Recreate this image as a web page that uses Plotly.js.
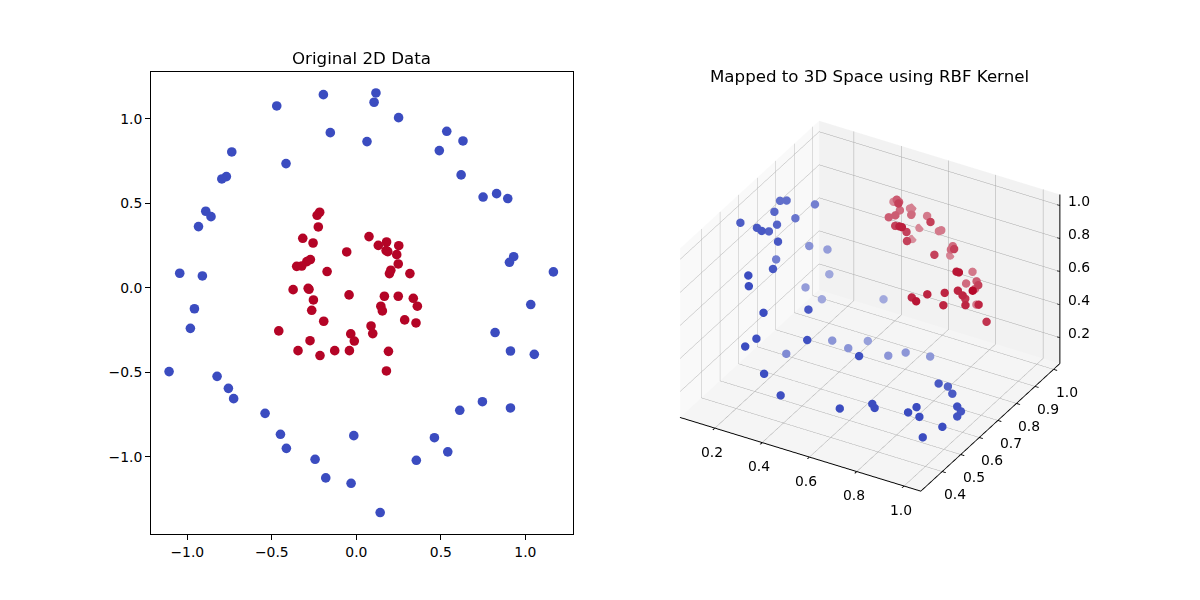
<!DOCTYPE html>
<html><head><meta charset="utf-8"><script src="https://cdn.plot.ly/plotly-3.0.1.min.js"></script>
<style>html,body{margin:0;padding:0;background:#fff}#c{width:1200px;height:600px}</style></head>
<body><div id="c"></div><script>
const outerX=[-0.471,-0.195,0.116,0.105,0.250,-0.154,0.063,0.535,0.631,0.491,0.620,0.750,0.830,0.896,-0.737,-0.416,-0.769,-0.796,-0.891,-0.860,-0.934,0.931,0.906,-1.045,-0.911,1.166,-0.958,1.032,-0.982,0.821,0.912,1.053,-1.108,-0.824,-0.757,-0.726,-0.540,-0.449,-0.414,-0.244,-0.181,-0.031,0.141,-0.015,0.355,0.462,0.541,0.612,0.746,0.912];
const outerY=[1.077,1.144,1.154,1.099,1.008,0.919,0.866,0.927,0.870,0.813,0.669,0.538,0.558,0.529,0.805,0.736,0.659,0.645,0.454,0.422,0.363,0.185,0.152,0.087,0.071,0.095,-0.123,-0.098,-0.239,-0.264,-0.373,-0.393,-0.495,-0.523,-0.594,-0.655,-0.742,-0.866,-0.949,-1.014,-1.124,-1.156,-1.329,-0.874,-1.020,-0.886,-0.970,-0.724,-0.673,-0.710];
const innerX=[-0.217,-0.232,-0.225,-0.317,-0.256,0.075,0.130,0.179,0.251,-0.057,0.176,0.186,0.239,0.248,0.204,0.196,0.317,-0.272,-0.293,-0.323,-0.353,-0.173,-0.374,-0.285,-0.280,-0.043,-0.254,0.166,0.248,0.337,0.361,0.145,0.154,-0.264,-0.193,0.286,0.353,-0.459,0.087,0.097,-0.033,-0.012,-0.274,-0.345,-0.215,-0.128,-0.041,0.190,0.178];
const innerY=[0.448,0.430,0.361,0.294,0.266,0.304,0.252,0.272,0.250,0.213,0.221,0.215,0.197,0.142,0.105,0.085,0.085,0.168,0.156,0.130,0.128,0.097,-0.010,-0.002,-0.008,-0.041,-0.071,-0.049,-0.049,-0.061,-0.108,-0.108,-0.136,-0.132,-0.197,-0.189,-0.207,-0.254,-0.225,-0.270,-0.272,-0.314,-0.312,-0.371,-0.400,-0.371,-0.371,-0.375,-0.491];

const blueX=[.134,.204,.224,.22,.204,.184,.204,.234,.23,.25,.29,.18,.30,.29,.30,.21,.24,.24,.21,.24,.45,.37,.34,.32,.50,.37,.27,.43,.68,.45,.43,.56,.61,.69,.40,.47,.72,.83,.84,.95,.97,.99,1.02,1.04,.93,.93,.98,1.04,1.04,1.04];
const blueY=[.506,.506,.506,.55,.60,.656,.666,.576,.68,.76,.51,.64,.47,.35,.34,.78,.84,.85,.76,.81,.47,.33,.33,.295,.40,.70,.58,.71,.45,.79,.90,.76,.79,.82,.295,.295,.295,.33,.33,.37,.39,.38,.36,.44,.56,.61,.57,.52,.54,.52];
const blueZ=[1.03,1.03,1.02,.97,1.03,1.03,1.03,.99,.92,.93,.98,.69,.86,.94,.89,.64,.57,.41,.41,.30,.68,.77,.60,.58,.59,.22,.22,.19,.52,.16,.29,.15,.16,.14,.45,.35,.38,.42,.40,.38,.40,.36,.27,.26,.35,.28,.30,.30,.25,.24];
const redX=[.47,.48,.37,.46,.48,.46,.44,.45,.50,.47,.55,.634,.644,.59,.48,.52,.66,.57,.58,.45,.60,.66,.66,.76,.61,.70,.88,.89,.72,.74,.80,.87,.98,.77,.87,.89,.87,.91,.76,.95,.83,.78,.73,.78,.84,.96,.98,.54];
const redY=[.92,.92,1.03,.95,.90,.89,1.03,1.03,.96,1.00,.81,.726,.726,.82,1.03,1.02,.86,1.02,1.02,1.03,.81,.97,.98,.86,1.03,.83,.72,.72,1.01,.95,.93,.85,.68,.96,.74,.74,.78,.73,.98,.75,.72,.69,.67,.63,.70,.78,.68,.84];
const redZ=[.89,.88,.72,.79,.82,.81,.71,.72,.77,.72,.88,1.00,1.00,.85,.61,.71,.90,.64,.65,.53,.81,.62,.63,.78,.50,.75,.84,.84,.47,.47,.53,.62,.81,.44,.70,.68,.61,.64,.32,.64,.69,.69,.67,.71,.64,.51,.81,.98];

const xTicks3=[.2,.4,.6,.8,1], yTicks3=[.4,.5,.6,.7,.8,.9,1], zTicks3=[.2,.4,.6,.8,1];
const xr=[.053,1.071], yr=[.285,1.034], zr=[.043,1.066];
const BLUE=[59,76,192], RED=[180,4,38], PANE=[244,244,244];
const view={eyeScale:1.587,dir:[.424,-.734,.53],zAspect:.717};

function nearness(x,y,z){return view.dir[0]*(x-xr[0])/(xr[1]-xr[0])+view.dir[1]*(y-yr[0])/(yr[1]-yr[0])+view.dir[2]*view.zAspect*(z-zr[0])/(zr[1]-zr[0]);}
const allN=blueX.map((v,i)=>nearness(v,blueY[i],blueZ[i])).concat(redX.map((v,i)=>nearness(v,redY[i],redZ[i])));
const nMin=Math.min(...allN), nMax=Math.max(...allN);
const shade=(rgb,n)=>{const k=Math.min(1,.42+.68*(n-nMin)/(nMax-nMin));
 return `rgb(${rgb.map((c,i)=>Math.round(c*k+PANE[i]*(1-k))).join(',')})`;};

const font={family:'"DejaVu Sans",sans-serif',size:13.9,color:'#000'};
const fmt=v=>v.toFixed(1);
const t3=(axis,vals)=>vals.map(v=>{
  if(axis==='x')return{x:v,y:yr[0],z:zr[0],text:fmt(v),xshift:-3,yshift:-24};
  if(axis==='y')return{x:xr[1],y:v,z:zr[0],text:fmt(v),xshift:13,yshift:-23};
  return{x:xr[1],y:yr[1],z:v,text:fmt(v),xshift:19,yshift:5};
});
const sceneAnn=[...t3('x',xTicks3),...t3('y',yTicks3),...t3('z',zTicks3)].map(a=>({...a,showarrow:false,font,xanchor:'center',yanchor:'middle'}));

const zx=[xr[1],xr[1],null],zy=[yr[1],yr[1],null],zz=[zr[0],zr[1],null];
zTicks3.forEach(v=>{zx.push(xr[1]-.012,xr[1]+.012,null);zy.push(yr[1],yr[1],null);zz.push(v,v,null);});

const data=[
 {type:'scatter',mode:'markers',x:outerX,y:outerY,marker:{size:9.6,color:'#3b4cc0',line:{width:0}},hoverinfo:'skip'},
 {type:'scatter',mode:'markers',x:innerX,y:innerY,marker:{size:9.6,color:'#b40426',line:{width:0}},hoverinfo:'skip'},
 {type:'scatter3d',mode:'lines',x:zx,y:zy,z:zz,line:{color:'#000',width:2},hoverinfo:'skip',scene:'scene'},
 {type:'scatter3d',mode:'markers',x:blueX,y:blueY,z:blueZ,marker:{size:4.9,line:{width:0},color:blueX.map((v,i)=>shade(BLUE,nearness(v,blueY[i],blueZ[i])))},hoverinfo:'skip',scene:'scene'},
 {type:'scatter3d',mode:'markers',x:redX,y:redY,z:redZ,marker:{size:4.9,line:{width:0},color:redX.map((v,i)=>shade(RED,nearness(v,redY[i],redZ[i])))},hoverinfo:'skip',scene:'scene'}
];
const ax3=(range,tickvals,bg,line)=>({range,tickmode:'array',tickvals,showticklabels:false,title:{text:''},showgrid:true,gridcolor:'#a8a8a8',gridwidth:1,zeroline:false,showspikes:false,showbackground:true,backgroundcolor:bg,showline:line,linecolor:'#000',linewidth:2,ticks:line?'outside':'',ticklen:4,tickcolor:'#000',tickwidth:2});
const layout={width:1200,height:600,margin:{l:0,r:0,t:0,b:0},showlegend:false,paper_bgcolor:'#fff',plot_bgcolor:'#fff',font,
 xaxis:{domain:[151/1200,573/1200],range:[-1.215,1.282],tickmode:'array',tickvals:[-1,-.5,0,.5,1],ticktext:['−1.0','−0.5','0.0','0.5','1.0'],ticks:'outside',ticklen:4.9,tickwidth:1.1,tickcolor:'#000',showline:true,linecolor:'#000',linewidth:1.1,mirror:true,showgrid:false,zeroline:false,tickfont:font,automargin:false},
 yaxis:{domain:[66/600,528/600],range:[-1.456,1.278],tickmode:'array',tickvals:[-1,-.5,0,.5,1],ticktext:['−1.0','−0.5','0.0','0.5','1.0'],ticks:'outside',ticklen:4.9,tickwidth:1.1,tickcolor:'#000',showline:true,linecolor:'#000',linewidth:1.1,mirror:true,showgrid:false,zeroline:false,tickfont:font,automargin:false},
 scene:{domain:{x:[.5,.95],y:[.027,.953]},aspectmode:'manual',aspectratio:{x:1,y:1,z:view.zAspect},
  camera:{eye:{x:view.dir[0]*view.eyeScale,y:view.dir[1]*view.eyeScale,z:view.dir[2]*view.eyeScale},up:{x:0,y:0,z:1},center:{x:0,y:0,z:0},projection:{type:'orthographic'}},
  xaxis:ax3(xr,xTicks3,'#f9f9f9',true),yaxis:ax3(yr,yTicks3,'#f2f2f2',true),zaxis:ax3(zr,zTicks3,'#f5f5f5',false),annotations:sceneAnn},
 annotations:[
  {xref:'paper',yref:'paper',x:361.5/1200,y:1-58/600,text:'Original 2D Data',showarrow:false,xanchor:'center',yanchor:'middle',font:{...font,size:16.67}},
  {xref:'paper',yref:'paper',x:869/1200,y:1-77/600,text:'Mapped to 3D Space using RBF Kernel',showarrow:false,xanchor:'center',yanchor:'middle',font:{...font,size:16.67}}]
};
Plotly.newPlot('c',data,layout,{displayModeBar:false});
</script></body></html>
